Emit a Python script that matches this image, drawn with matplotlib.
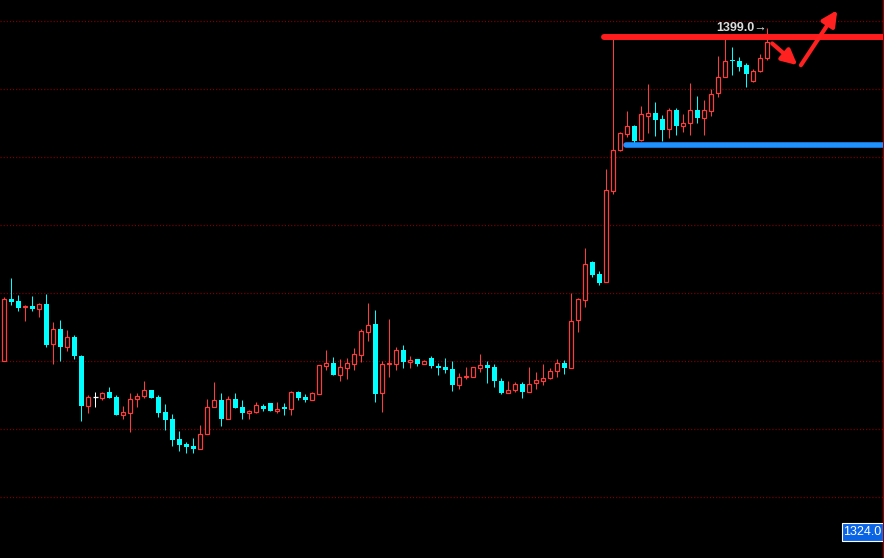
import numpy as np
import matplotlib
matplotlib.use("Agg")
from matplotlib import pyplot as plt
from matplotlib.patches import Rectangle

# OHLC, oldest first
opens = [1350.0, 1359.1, 1358.8, 1357.9, 1358.1, 1357.7, 1358.4, 1352.5, 1354.7, 1352.1,
         1353.5, 1350.7, 1343.4, 1344.7, 1344.6, 1345.4, 1344.7, 1342.1, 1342.4, 1344.4,
         1344.9, 1345.7, 1344.7, 1342.5, 1341.5, 1338.5, 1337.8, 1337.5, 1337.1, 1339.2,
         1343.3, 1344.3, 1341.5, 1344.4, 1343.2, 1342.4, 1342.5, 1343.4, 1343.8, 1342.7,
         1343.2, 1343.0, 1345.4, 1344.7, 1344.3, 1345.2, 1349.3, 1349.7, 1348.0, 1349.0,
         1349.6, 1350.9, 1354.3, 1355.4, 1345.3, 1349.5, 1349.6, 1351.6, 1349.9, 1350.3,
         1349.5, 1350.4, 1349.2, 1349.1, 1348.8, 1346.5, 1347.6, 1347.7, 1349.0, 1349.4,
         1349.1, 1347.1, 1345.3, 1345.7, 1346.6, 1345.5, 1346.7, 1347.1, 1347.5, 1348.6,
         1349.7, 1349.0, 1356.1, 1358.9, 1364.6, 1362.8, 1361.6, 1375.0, 1381.1, 1383.4,
         1384.6, 1382.5, 1386.1, 1386.5, 1385.6, 1384.1, 1386.9, 1384.5, 1385.0, 1386.9,
         1385.8, 1386.7, 1389.4, 1391.7, 1394.2, 1394.1, 1393.5, 1391.2, 1392.7, 1394.5]
highs = [1359.4, 1362.2, 1359.7, 1358.3, 1359.6, 1358.5, 1359.9, 1355.7, 1356.0, 1354.6,
         1353.8, 1350.9, 1345.0, 1345.4, 1345.4, 1346.2, 1345.0, 1343.4, 1345.3, 1345.3,
         1347.1, 1345.7, 1345.0, 1343.7, 1342.2, 1339.7, 1338.1, 1338.7, 1340.6, 1344.4,
         1346.9, 1345.3, 1344.9, 1345.3, 1344.3, 1342.8, 1343.9, 1343.7, 1343.8, 1344.0,
         1343.8, 1345.6, 1345.6, 1345.1, 1345.4, 1349.4, 1351.6, 1350.6, 1350.3, 1350.4,
         1351.9, 1354.7, 1358.5, 1357.5, 1350.0, 1356.2, 1352.1, 1352.4, 1350.7, 1350.3,
         1350.2, 1350.7, 1349.7, 1350.4, 1350.0, 1348.2, 1349.1, 1349.1, 1351.0, 1350.0,
         1349.6, 1347.5, 1347.1, 1346.9, 1346.9, 1349.1, 1348.4, 1349.6, 1349.0, 1350.3,
         1350.1, 1360.0, 1359.3, 1366.6, 1364.7, 1363.2, 1378.3, 1397.7, 1383.7, 1386.8,
         1384.7, 1387.5, 1390.7, 1388.1, 1386.2, 1387.2, 1387.2, 1386.3, 1390.9, 1389.0,
         1388.4, 1390.0, 1394.9, 1397.5, 1396.2, 1394.7, 1393.8, 1392.9, 1395.1, 1399.0]
lows = [1350.0, 1358.3, 1357.4, 1355.9, 1357.4, 1356.5, 1352.0, 1349.5, 1350.0, 1351.4,
        1350.3, 1341.2, 1342.4, 1343.3, 1344.3, 1344.6, 1342.1, 1341.4, 1339.6, 1343.3,
        1344.5, 1344.6, 1341.7, 1339.9, 1337.5, 1336.7, 1336.4, 1336.5, 1337.1, 1339.2,
        1343.3, 1340.5, 1341.4, 1343.1, 1341.5, 1341.5, 1342.3, 1342.7, 1342.7, 1342.4,
        1342.1, 1342.0, 1344.2, 1343.9, 1344.2, 1345.2, 1348.7, 1348.0, 1347.0, 1347.4,
        1348.7, 1349.8, 1353.0, 1343.9, 1342.5, 1347.6, 1348.7, 1349.0, 1349.0, 1349.3,
        1349.5, 1349.0, 1348.0, 1348.3, 1345.6, 1345.9, 1347.4, 1347.7, 1348.4, 1346.8,
        1346.2, 1345.2, 1345.3, 1345.5, 1344.6, 1345.5, 1345.9, 1346.5, 1347.3, 1347.7,
        1348.1, 1348.9, 1354.3, 1358.0, 1362.3, 1361.2, 1361.6, 1374.5, 1380.9, 1383.0,
        1382.0, 1382.3, 1383.6, 1383.1, 1382.3, 1382.8, 1383.3, 1383.7, 1383.3, 1385.0,
        1383.3, 1386.1, 1388.8, 1391.7, 1392.1, 1392.6, 1390.3, 1391.1, 1392.5, 1394.2]
closes = [1359.1, 1358.7, 1357.8, 1358.1, 1357.7, 1358.4, 1352.4, 1354.7, 1352.1, 1353.5,
          1350.8, 1343.4, 1344.7, 1344.7, 1345.3, 1344.6, 1342.1, 1342.5, 1344.4, 1344.8,
          1345.7, 1344.6, 1342.4, 1341.3, 1338.4, 1337.7, 1337.4, 1337.1, 1339.2, 1343.3,
          1344.2, 1341.4, 1344.4, 1343.1, 1342.4, 1342.6, 1343.5, 1343.0, 1342.7, 1343.0,
          1343.0, 1345.4, 1344.6, 1344.3, 1345.3, 1349.4, 1349.7, 1348.0, 1349.1, 1349.7,
          1351.0, 1354.4, 1355.3, 1345.2, 1349.6, 1349.7, 1351.6, 1349.8, 1350.1, 1349.6,
          1350.0, 1349.2, 1349.0, 1348.7, 1346.5, 1347.6, 1347.8, 1349.1, 1349.4, 1349.0,
          1347.1, 1345.3, 1345.7, 1346.6, 1345.5, 1346.6, 1347.2, 1347.5, 1348.5, 1349.7,
          1349.0, 1355.9, 1359.1, 1364.3, 1362.7, 1361.5, 1375.1, 1381.1, 1383.5, 1384.5,
          1382.3, 1386.3, 1386.5, 1385.5, 1384.0, 1386.9, 1384.5, 1385.0, 1386.9, 1385.8,
          1386.9, 1389.3, 1391.8, 1394.1, 1394.1, 1393.3, 1392.2, 1392.7, 1394.6, 1396.9]

resistance = 1397.7
support = 1381.8
grid_levels = [1400, 1390, 1380, 1370, 1360, 1350, 1340, 1330]
high_label = "1399.0"
price_label = "1324.0"

UP = "#ff3b3b"
DOWN = "#00ffff"

o = np.array(opens)
h = np.array(highs)
l = np.array(lows)
c = np.array(closes)
x = np.arange(len(o))
up = c > o
down = c < o
flat = c == o

fig = plt.figure(figsize=(8.84, 5.58), dpi=100, facecolor="black")
ax = fig.add_axes([0, 0, 883 / 884, 1])
ax.set_facecolor("black")

for lv in grid_levels:
    ax.axhline(lv, color="#800000", lw=0.9, dashes=(0.9, 1.6), zorder=0)

px = 0.72  # one pixel in points
wick_colors = np.where(up, UP, np.where(down, DOWN, "white"))
ax.vlines(x, l, h, colors=wick_colors, lw=px, zorder=2)

ax.bar(x[down], (o - c)[down], bottom=c[down], width=0.7, color=DOWN,
       linewidth=0, zorder=3)
ax.bar(x[up], (c - o)[up], bottom=o[up], width=0.6, facecolor="black",
       edgecolor=UP, linewidth=px * 1.2, zorder=3)
ax.hlines(c[flat], x[flat] - 0.35, x[flat] + 0.35, colors="white", lw=px * 1.3, zorder=3)

# support / resistance
x_end = 130
ax.plot([85.7, x_end], [resistance, resistance], color="#ff1c1c", lw=4.3,
        solid_capstyle="round", zorder=4)
ax.plot([88.8, x_end], [support, support], color="#1e90ff", lw=4.0,
        solid_capstyle="round", zorder=4)

# arrows
arrow_kw = dict(arrowstyle="-|>,head_length=0.9,head_width=0.45", color="#ff2020",
                lw=3.0, shrinkA=0, shrinkB=0)
ax.annotate("", xy=(113.3, 1393.5), xytext=(109.7, 1396.7), arrowprops=arrow_kw, zorder=5)
ax.annotate("", xy=(119.0, 1401.6), xytext=(113.8, 1393.5), arrowprops=arrow_kw, zorder=5)

# high price marker
ax.text(109.0, 1399.0, high_label + "\u2192", color="#dcdcdc", fontsize=9,
        fontweight="bold", family=["Liberation Sans", "DejaVu Sans"],
        ha="right", va="center", zorder=6)

ax.set_xlim(-0.614, (883 - 4.3) / 7)
ax.set_ylim(1400 - 537 / 6.8, 1400 + 21 / 6.8)
ax.set_xticks([])
ax.set_yticks([])
for side in ["top", "bottom", "left"]:
    ax.spines[side].set_visible(False)
ax.spines["right"].set_color("#8b0000")
ax.spines["right"].set_linewidth(1.0)

# current price box at bottom right
ax.add_patch(Rectangle((842 / 884, 1 - 541 / 558), 41 / 884, 18 / 558,
                       transform=fig.transFigure, facecolor="#0a64e6",
                       edgecolor="white", lw=0.8, zorder=7))
fig.text(862.5 / 884, 1 - 532 / 558, price_label, color="white", fontsize=9,
         family=["Liberation Sans", "DejaVu Sans"], ha="center", va="center", zorder=8)

fig.savefig("out.png", dpi=100, facecolor="black")
